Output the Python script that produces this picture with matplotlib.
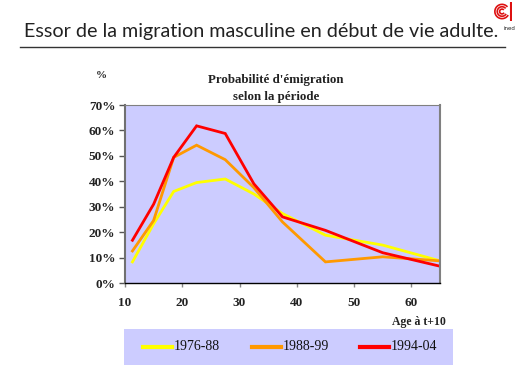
import matplotlib
matplotlib.use("Agg")
import matplotlib.pyplot as plt
from matplotlib.patches import Rectangle, Arc
from matplotlib.lines import Line2D

# age (midpoint of group) and emigration probability (%) per period
ages = [11.3, 15, 18.5, 22.5, 27.5, 32.5, 37.5, 45, 55, 65]
p_1976 = [8.3, 23.3, 36.0, 39.5, 40.9, 35.0, 27.3, 18.8, 14.9, 8.7]
p_1988 = [12.6, 24.6, 49.4, 54.2, 48.5, 37.5, 24.0, 8.3, 10.3, 8.7]
p_1994 = [16.8, 31.0, 49.4, 61.8, 58.8, 39.0, 26.0, 20.7, 11.9, 6.6]
periods = ["1976-88", "1988-99", "1994-04"]
colors = ["#FFFF00", "#FF9900", "#FF0000"]

lavender = "#CCCCFF"
serif = ["Liberation Serif", "DejaVu Serif"]

fig = plt.figure(figsize=(5.32, 3.74), dpi=100)
W, H = 532, 374

def fx(px):
    return px / W

def fy(py):
    return 1 - py / H

# slide title + underline
fig.text(fx(24), fy(31), "Essor de la migration masculine en début de vie adulte.",
         fontsize=14.2, family="Lato", color="#222222", va="center", ha="left")
fig.add_artist(Line2D([fx(20), fx(505)], [fy(47), fy(47)], color="#333333", lw=1.0))

# little logo top right
logo = fig.add_axes([fx(492), fy(21), fx(20), 19 / H])
logo.set_xlim(-1, 1)
logo.set_ylim(-1, 1)
logo.set_aspect("equal")
logo.axis("off")
for r in [0.25, 0.5, 0.75]:
    logo.add_patch(Arc((0, 0), 2 * r, 2 * r, theta1=40, theta2=330, color="#DD1111", lw=1.2))
logo.plot([0.95, 0.95], [-0.9, 1.0], color="#DD1111", lw=1.5)
fig.text(fx(503), fy(28), "ined", fontsize=4, color="#222222", va="center", ha="left")

# main chart
ax = fig.add_axes([fx(125), fy(283), fx(440 - 125), (283 - 105) / H])
ax.set_facecolor(lavender)
for vals, c in zip([p_1976, p_1988, p_1994], colors):
    ax.plot(ages, vals, color=c, lw=2, solid_joinstyle="miter")

ax.set_xlim(10, 65)
ax.set_ylim(0, 70)
ax.set_xticks([10, 20, 30, 40, 50, 60])
ax.set_yticks(range(0, 71, 10))
ax.set_yticklabels([f"{v}%" for v in range(0, 71, 10)])
for lab in ax.get_xticklabels() + ax.get_yticklabels():
    lab.set_family(serif)
    lab.set_fontweight("bold")
    lab.set_fontsize(9.5)
    lab.set_color("#222222")
ax.tick_params(axis="y", direction="out", length=4, width=1, color="#555555", pad=3)
ax.tick_params(axis="x", direction="out", length=3, width=1, color="#888888", pad=7)
ax.spines["left"].set_color("#707070")
ax.spines["left"].set_linewidth(1.5)
ax.spines["bottom"].set_color("black")
ax.spines["bottom"].set_linewidth(1.0)
ax.spines["top"].set_color("#808080")
ax.spines["right"].set_color("#808080")
ax.spines["right"].set_linewidth(1.5)

fig.text(fx(276), fy(80), "Probabilité d'émigration", family=serif, fontweight="bold",
         fontsize=9.3, ha="center", va="center", color="#222222")
fig.text(fx(276), fy(97), "selon la période", family=serif, fontweight="bold",
         fontsize=9.3, ha="center", va="center", color="#222222")
fig.text(fx(96), fy(75), "%", family=serif, fontweight="bold", fontsize=8,
         ha="left", va="center", color="#222222")
fig.text(fx(446), fy(322), "Age à t+10", family=serif, fontweight="bold", fontsize=8.5,
         ha="right", va="center", color="#222222")

# legend box
fig.add_artist(Rectangle((fx(124), fy(365)), fx(453 - 124), (365 - 329) / H,
                         facecolor=lavender, edgecolor="none"))
legend_x = [143, 252, 360]
for x0, c, name in zip(legend_x, colors, periods):
    fig.add_artist(Line2D([fx(x0), fx(x0 + 29)], [fy(347), fy(347)], color=c, lw=3))
    fig.text(fx(x0 + 31), fy(347), name, family=serif, fontsize=10,
             ha="left", va="center", color="#111111")

fig.savefig("out.png", dpi=100)
